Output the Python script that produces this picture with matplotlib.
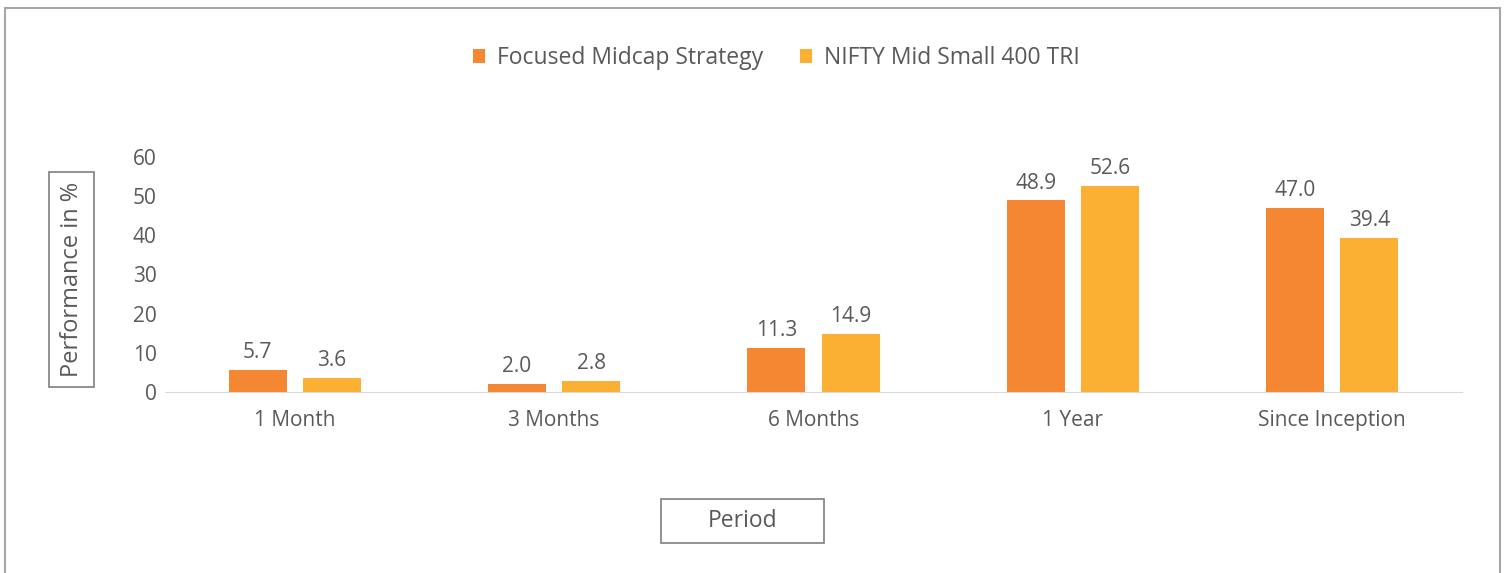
import numpy as np
import matplotlib.pyplot as plt
from matplotlib.patches import Rectangle

periods = ['1 Month', '3 Months', '6 Months', '1 Year', 'Since Inception']
strategy = [5.7, 2.0, 11.3, 48.9, 47.0]
benchmark = [3.6, 2.8, 14.9, 52.6, 39.4]
series_names = ['Focused Midcap Strategy', 'NIFTY Mid Small 400 TRI']

W, H = 1507, 573
txt = '#595959'
c1, c2 = '#F58733', '#FBB034'
plt.rcParams['font.family'] = ['Open Sans', 'DejaVu Sans']

fig = plt.figure(figsize=(W / 100, H / 100), dpi=100)


def px(x0, y0, x1, y1):
    # pixel box (top-left origin) -> figure fraction rect
    return [x0 / W, 1 - y1 / H, (x1 - x0) / W, (y1 - y0) / H]


ax = fig.add_axes(px(165, 157, 1462, 392))
x = np.arange(len(periods))
bw = 0.224
off = 0.031 + bw / 2
b1 = ax.bar(x - off, strategy, bw, color=c1, label=series_names[0])
b2 = ax.bar(x + off, benchmark, bw, color=c2, label=series_names[1])
for bars in (b1, b2):
    ax.bar_label(bars, fmt='%.1f', padding=5, color=txt, fontsize=15)

ax.set_xlim(-0.5, len(periods) - 0.5)
ax.set_ylim(0, 60)
ax.set_yticks(range(0, 61, 10))
ax.set_xticks(x, periods)
ax.tick_params(length=0, labelsize=15, labelcolor=txt)
ax.tick_params(axis='x', pad=13)
ax.tick_params(axis='y', pad=6)
for s in ['top', 'right', 'left']:
    ax.spines[s].set_visible(False)
ax.spines['bottom'].set_color('#D9D9D9')

leg = fig.legend(loc='center', bbox_to_anchor=(776 / W, 1 - 58 / H), ncol=2,
                 frameon=False, fontsize=16.5, handlelength=0.55, handleheight=0.55,
                 handletextpad=0.5, columnspacing=1.6, labelcolor=txt)

# axis title boxes
for (x0, y0, x1, y1) in [(49, 172, 94, 387), (661, 499, 824, 543)]:
    r = px(x0, y0, x1, y1)
    fig.patches.append(Rectangle((r[0], r[1]), r[2], r[3], transform=fig.transFigure,
                                 fill=False, edgecolor='#7F7F7F', lw=1.2))
fig.text(71.5 / W, 1 - 279.5 / H, 'Performance in %', rotation=90, ha='center',
         va='center', color=txt, fontsize=17)
fig.text(742.5 / W, 1 - 521 / H, 'Period', ha='center', va='center', color=txt, fontsize=16.5)

# outer chart frame
r = px(5, 8, 1500, 600)
fig.patches.append(Rectangle((r[0], r[1]), r[2], r[3], transform=fig.transFigure,
                             fill=False, edgecolor='#A6A6A6', lw=1.5))

fig.savefig('out.png', dpi=100)
